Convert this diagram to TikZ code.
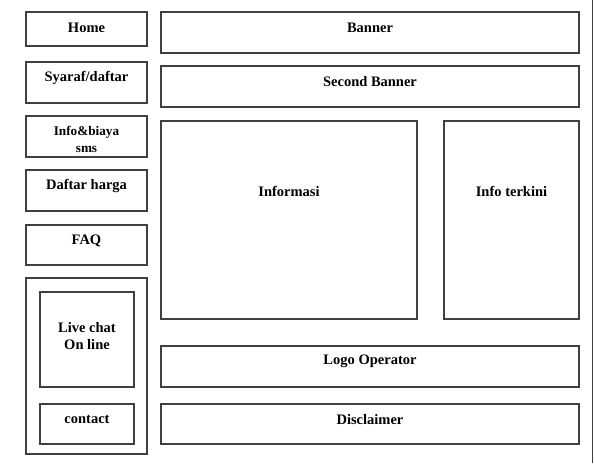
\documentclass[tikz,border=0pt]{standalone}
\usepackage{fontspec}
\setmainfont{Liberation Serif}
\begin{document}
\begin{tikzpicture}[x=1pt,y=-1pt,
  box/.style={draw=black!75,line width=1.3pt,rectangle,inner sep=0pt,outer sep=0pt},
  lbl/.style={font=\fontsize{14.5}{17}\selectfont\bfseries,align=center,inner sep=0pt,text=black},
  smalllbl/.style={font=\fontsize{13.2}{17}\selectfont\bfseries,align=center,inner sep=0pt,text=black}]
\useasboundingbox (0,0) rectangle (594,463);
% left column
\node[box,minimum width=121pt,minimum height=34pt] (home) at (86.5,29) {};
\node[lbl] (homet) at (86.5,28) {Home};
\node[box,minimum width=121pt,minimum height=41pt] (syaraf) at (86.5,82.5) {};
\node[lbl] (syaraft) at (86.5,78) {Syaraf/daftar};
\node[box,minimum width=121pt,minimum height=41pt] (info) at (86.5,136.5) {};
\node[smalllbl] (infot) at (86.5,139) {Info\&biaya\\sms};
\node[box,minimum width=121pt,minimum height=41pt] (daftar) at (86.5,190.5) {};
\node[lbl] (daftart) at (86.5,186) {Daftar harga};
\node[box,minimum width=121pt,minimum height=40pt] (faq) at (86.5,245) {};
\node[lbl] (faqt) at (86.5,240.5) {FAQ};
\node[box,minimum width=121pt,minimum height=176pt] (outer) at (86.5,366) {};
\node[box,minimum width=94pt,minimum height=95pt] (live) at (87,339.5) {};
\node[lbl] (livet) at (87,336.5) {Live chat\\On line};
\node[box,minimum width=94pt,minimum height=40pt] (contact) at (87,424) {};
\node[lbl] (contactt) at (87,419.5) {contact};
% right area
\node[box,minimum width=418pt,minimum height=41pt] (banner) at (370,32.5) {};
\node[lbl] (bannert) at (370,27.5) {Banner};
\node[box,minimum width=418pt,minimum height=41pt] (second) at (370,86.5) {};
\node[lbl] (secondt) at (370,82) {Second Banner};
\node[box,minimum width=256pt,minimum height=198pt] (informasi) at (289,220) {};
\node[lbl] (informasit) at (289,191) {Informasi};
\node[box,minimum width=135pt,minimum height=198pt] (terkini) at (511.5,220) {};
\node[lbl] (terkinit) at (511.5,191) {Info terkini};
\node[box,minimum width=418pt,minimum height=41pt] (logo) at (370,366.5) {};
\node[lbl] (logot) at (370,361.5) {Logo Operator};
\node[box,minimum width=418pt,minimum height=40pt] (disc) at (370,424) {};
\node[lbl] (disct) at (370,420) {Disclaimer};
% right edge line
\coordinate (rt) at (592.5,0);
\coordinate (rb) at (592.5,463);
\draw[draw=black!75,line width=1.3pt] (rt) -- (rb);
\end{tikzpicture}
\end{document}
